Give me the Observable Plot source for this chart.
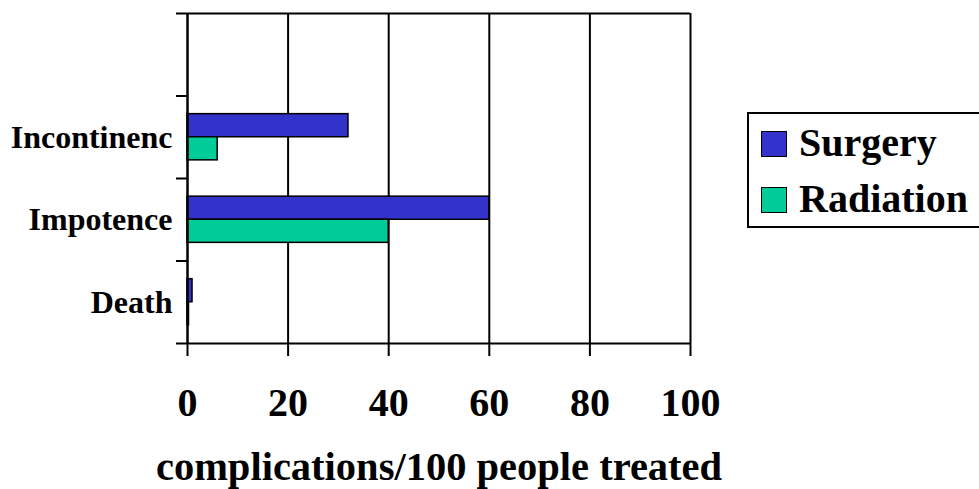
<!DOCTYPE html>
<html>
<head>
<meta charset="utf-8">
<script src="https://cdn.jsdelivr.net/npm/d3@7"></script>
<script src="https://cdn.jsdelivr.net/npm/@observablehq/plot@0.6"></script>
<style>
  html, body { margin: 0; padding: 0; background: #fff; overflow: hidden; }
  #wrap { position: relative; width: 979px; height: 489px; overflow: hidden; }
  #wrap svg { position: absolute; left: 0; top: 0; }
  .legend { position: absolute; left: 747px; top: 112px; width: 260px; height: 116px;
    border: 2px solid #000; box-sizing: border-box; font-family: "Liberation Serif", "Times New Roman", serif;
    font-weight: bold; font-size: 40px; line-height: 40px; color: #000; }
  .legend .sw { position: absolute; left: 12px; width: 26px; height: 26px; border: 1.5px solid #000; box-sizing: border-box; }
  .legend .lab { position: absolute; left: 50px; white-space: nowrap; }
</style>
</head>
<body>
<div id="wrap"></div>
<script>
// Data (categories listed bottom to top)
const categories = ["Death", "Impotence", "Incontinenc"];
const seriesNames = ["Surgery", "Radiation"];
const surgery = [1, 60, 32];
const radiation = [0.3, 40, 6];
const xTicks = [0, 20, 40, 60, 80, 100];
const colors = ["#3333CC", "#00CC99"];
const xLabel = "complications/100 people treated";

const values = {Surgery: surgery, Radiation: radiation};
const rows = categories.flatMap((c, i) => seriesNames.map((s) => ({cat: c, series: s, value: values[s][i], i})));

const nBands = categories.length + 1; // one empty band on top
const half = 0.28; // bar thickness in band units
const font = '"Liberation Serif", "Times New Roman", serif';

const chart = Plot.plot({
  width: 979,
  height: 489,
  marginLeft: 187,
  marginRight: 289,
  marginTop: 13,
  marginBottom: 146,
  style: {fontFamily: font, background: "transparent"},
  x: {domain: [0, 100]},
  y: {domain: [0, nBands]},
  color: {domain: seriesNames, range: colors},
  marks: [
    // grid lines
    Plot.ruleX(xTicks.slice(1), {stroke: "#000", strokeWidth: 2, strokeOpacity: 1}),
    // top & bottom frame lines
    Plot.ruleY([0, nBands], {stroke: "#000", strokeWidth: 2}),
    // bars
    Plot.rect(rows, {
      x1: 0,
      x2: "value",
      y1: (d) => d.series === "Surgery" ? d.i + 0.5 : d.i + 0.5 - half,
      y2: (d) => d.series === "Surgery" ? d.i + 0.5 + half : d.i + 0.5,
      fill: "series",
      stroke: "#000",
      strokeWidth: 1.5
    }),
    // y axis line
    Plot.ruleX([0], {stroke: "#000", strokeWidth: 2.5}),
    // y ticks at band boundaries
    Plot.axisY({ticks: d3.range(0, nBands + 1), tickSize: 11, tickFormat: () => "", strokeWidth: 2}),
    // y category labels
    Plot.axisY({
      ticks: categories.map((c, i) => i + 0.5),
      tickFormat: (v) => categories[Math.floor(v)],
      tickSize: 0,
      tickPadding: 15,
      fontSize: 32,
      fontWeight: "bold",
      fill: "#000",
      label: null
    }),
    // x axis
    Plot.axisX({
      ticks: xTicks,
      tickSize: 13,
      tickPadding: 31,
      strokeWidth: 2,
      fontSize: 40,
      fontWeight: "bold",
      fill: "#000",
      label: null
    }),
    // x axis title
    Plot.text([xLabel], {
      frameAnchor: "bottom",
      lineAnchor: "bottom",
      dy: 136,
      text: (d) => d,
      fontSize: 40.5,
      fontWeight: "bold",
      fill: "#000"
    })
  ]
});

const wrap = document.getElementById("wrap");
wrap.appendChild(chart);

// Legend
const legend = document.createElement("div");
legend.className = "legend";
seriesNames.forEach((s, k) => {
  const sw = document.createElement("div");
  sw.className = "sw";
  sw.style.top = (17 + k * 56) + "px";
  sw.style.background = colors[k];
  legend.appendChild(sw);
  const lab = document.createElement("div");
  lab.className = "lab";
  lab.style.top = (9 + k * 56) + "px";
  lab.textContent = s;
  legend.appendChild(lab);
});
wrap.appendChild(legend);
</script>
</body>
</html>
